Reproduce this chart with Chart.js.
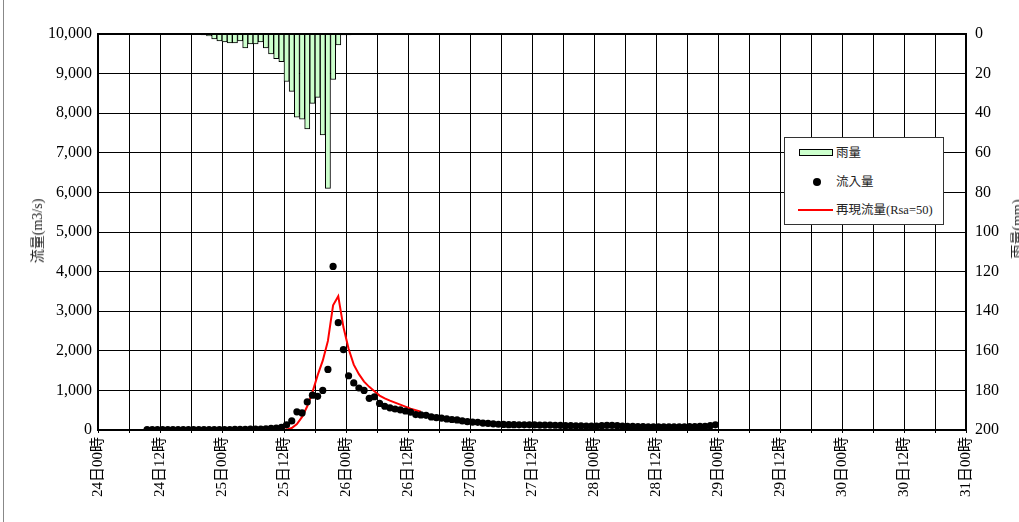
<!DOCTYPE html>
<html>
<head>
<meta charset="utf-8">
<script src="https://cdn.jsdelivr.net/npm/chart.js@4.4.1/dist/chart.umd.min.js"></script>
<style>
  html, body { margin: 0; padding: 0; background: #fff; overflow: hidden; }
  #wrap { position: relative; width: 1019px; height: 522px; overflow: hidden; }
  canvas { position: absolute; left: 0; top: 0; }
  .ttl { position: absolute; font-family: "Liberation Serif", "Noto Sans CJK JP", serif; font-size: 14px; color: #222; white-space: nowrap; transform: translate(-50%, -50%) rotate(-90deg); }
  #legend { position: absolute; left: 784px; top: 137px; width: 158px; height: 86px; border: 1px solid #333; background: #fff;
            font-family: "Liberation Serif", "Noto Sans CJK JP", serif; font-size: 12.5px; color: #222; }
  .row { position: absolute; left: 0; height: 14px; line-height: 14px; }
  .row span { position: absolute; left: 51px; top: 0; white-space: nowrap; }
  .sw { position: absolute; }
  #frameLine { position: absolute; left: 3px; top: 0; width: 1px; height: 522px; background: #888; }
</style>
</head>
<body>
<div id="wrap">
  <canvas id="c" width="1019" height="522"></canvas>
  <div id="frameLine"></div>
  <div class="ttl" style="left:36px; top:231px;">流量(m3/s)</div>
  <div class="ttl" style="left:1016px; top:229px;">雨量(mm)</div>
  <div id="legend">
    <div class="row" style="top:8px; width:158px;">
      <div class="sw" style="left:14px; top:3px; width:32px; height:5px; background:#ccffcc; border:1px solid #000;"></div>
      <span>雨量</span>
    </div>
    <div class="row" style="top:37px; width:158px;">
      <div class="sw" style="left:28px; top:3px; width:8px; height:8px; border-radius:50%; background:#000;"></div>
      <span>流入量</span>
    </div>
    <div class="row" style="top:65px; width:158px;">
      <div class="sw" style="left:13px; top:6px; width:35px; height:2px; background:#ff0000;"></div>
      <span>再現流量(Rsa=50)</span>
    </div>
  </div>
</div>
<script>
// ---- Data (hour index counted from 24日00時; each value is for one hour slot) ----
const xTickLabels = ['24日00時','24日12時','25日00時','25日12時','26日00時','26日12時','27日00時','27日12時',
                     '28日00時','28日12時','29日00時','29日12時','30日00時','30日12時','31日00時'];
const leftTicks = [0,1000,2000,3000,4000,5000,6000,7000,8000,9000,10000];
const rightTicks = [0,20,40,60,80,100,120,140,160,180,200];

// 雨量 (mm), first slot = hour 20
const rainStartHour = 20;
const rainValues = [0.5,1,2.5,3.5,4,4.5,4.5,3.5,7,5,5,4,7,10,12.5,14,24,29,42,43,48,35,32,51,78,23,5.5,0.5,0.5];

// 流入量 (m3/s), first slot = hour 9
const flowStartHour = 9;
const flowValues = [
  10,10,10,10,10,10,10,10,10,10,10,10,10,10,10,10,10,15,15,15,20,      // 9-29
  20,25,30,40,50,70,130,230,460,430,                                    // 30-39
  710,880,850,1000,1530,4130,2710,2030,1370,1190,                       // 40-49
  1060,1000,800,840,670,600,560,530,510,480,                            // 50-59
  450,390,380,370,330,310,300,280,265,255,                              // 60-69
  230,210,200,195,175,165,155,145,140,135,                              // 70-79
  135,130,130,130,128,125,125,125,120,115,                              // 80-89
  110,108,105,105,100,100,100,110,115,115,                              // 90-99
  110,100,95,90,85,85,80,80,80,80,                                      // 100-109
  80,80,80,80,85,85,90,95,110,130                                       // 110-119
];

// 再現流量(Rsa=50) (m3/s), first slot = hour 35
const simStartHour = 35;
const simValues = [0,10,50,150,330,600,950,1380,1750,2250,3150,3380,2600,2050,1650,1410,1220,1090,980,870,800,740,690,640,590,540,500,460];

// ---- Build datasets (points at slot centres) ----
const toPts = (start, vals) => vals.map((v, i) => ({ x: start + i + 0.5, y: v }));

const fontFam = '"Liberation Serif", "Noto Sans CJK JP", serif';

const framePlugin = {
  id: 'frame',
  beforeDraw(chart) {
    const c = chart.ctx;
    c.save(); c.fillStyle = '#fff'; c.fillRect(0, 0, chart.width, chart.height); c.restore();
  },
  afterDraw(chart) {
    const a = chart.chartArea, c = chart.ctx;
    c.save();
    c.strokeStyle = '#000'; c.lineWidth = 2;
    c.strokeRect(a.left, a.top, a.right - a.left, a.bottom - a.top);
    c.restore();
  }
};

new Chart(document.getElementById('c'), {
  data: {
    datasets: [
      { type: 'scatter', label: '流入量', data: toPts(flowStartHour, flowValues), yAxisID: 'y',
        pointRadius: 3.6, pointBackgroundColor: '#000', pointBorderColor: '#000', pointBorderWidth: 0, order: 0 },
      { type: 'line', label: '再現流量(Rsa=50)', data: toPts(simStartHour, simValues), yAxisID: 'y',
        borderColor: '#ff0000', borderWidth: 2, pointRadius: 0, tension: 0, fill: false, order: 1 },
      { type: 'bar', label: '雨量', data: toPts(rainStartHour, rainValues), yAxisID: 'y2',
        backgroundColor: '#ccffcc', borderColor: '#000', borderWidth: 1, borderSkipped: 'start',
        barPercentage: 1, categoryPercentage: 1, order: 2 }
    ]
  },
  options: {
    responsive: false, animation: false, devicePixelRatio: 1,
    plugins: { legend: { display: false }, tooltip: { enabled: false } },
    layout: { padding: { top: 34, left: 0, right: 0, bottom: 0 } },
    scales: {
      x: {
        type: 'linear', position: 'bottom', min: 0, max: 168, offset: false,
        afterBuildTicks: (ax) => { const t = []; for (let v = 0; v <= 168; v += 6) t.push({ value: v }); ax.ticks = t; },
        afterFit: (ax) => { ax.height = 92; },
        grid: { color: '#000', lineWidth: 1, drawTicks: true, tickLength: 3, offset: false },
        border: { color: '#000', width: 2 },
        ticks: {
          autoSkip: false, maxRotation: 90, minRotation: 90, padding: 4,
          font: { family: fontFam, size: 15 }, color: '#000',
          callback: (v) => (v % 12 === 0 ? xTickLabels[v / 12] : '')
        }
      },
      y: {
        type: 'linear', position: 'left', min: 0, max: 10000,
        afterBuildTicks: (ax) => { ax.ticks = leftTicks.map(v => ({ value: v })); },
        afterFit: (ax) => { ax.width = 98; },
        grid: { color: '#000', lineWidth: 1, drawTicks: false },
        border: { color: '#000', width: 2 },
        ticks: { padding: 6, font: { family: fontFam, size: 16 }, color: '#000',
                 callback: (v) => v.toLocaleString('en-US') }
      },
      y2: {
        type: 'linear', position: 'right', min: 0, max: 200, reverse: true,
        afterBuildTicks: (ax) => { ax.ticks = rightTicks.map(v => ({ value: v })); },
        afterFit: (ax) => { ax.width = 53; },
        grid: { drawOnChartArea: false, drawTicks: false },
        border: { color: '#000', width: 2 },
        ticks: { padding: 9, font: { family: fontFam, size: 16 }, color: '#000' }
      }
    }
  },
  plugins: [framePlugin]
});
</script>
</body>
</html>
